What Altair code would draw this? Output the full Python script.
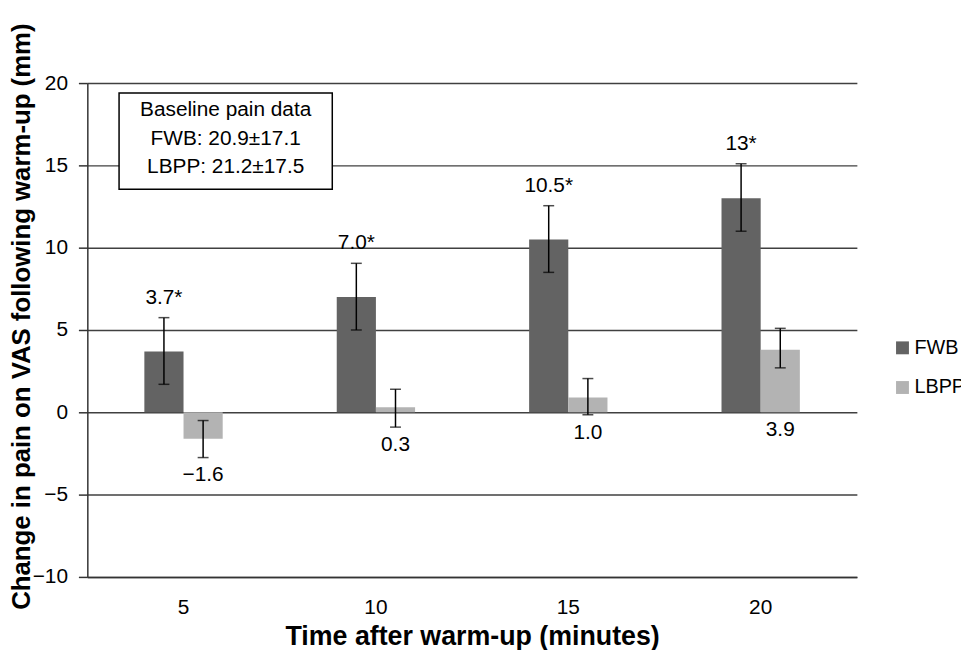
import altair as alt
import pandas as pd

times = ["5", "10", "15", "20"]
groups = ["FWB", "LBPP"]
fwb_mean = [3.7, 7.0, 10.5, 13.0]
fwb_lo = [1.7, 5.0, 8.5, 11.0]
fwb_hi = [5.75, 9.05, 12.55, 15.1]
lbpp_mean = [-1.6, 0.3, 0.9, 3.8]
lbpp_lo = [-2.75, -0.9, -0.15, 2.7]
lbpp_hi = [-0.5, 1.4, 2.05, 5.1]
fwb_labels = ["3.7*", "7.0*", "10.5*", "13*"]
lbpp_labels = ["\u22121.6", "0.3", "1.0", "3.9"]
box_lines = ["Baseline pain data", "FWB: 20.9\u00b117.1", "LBPP: 21.2\u00b117.5"]
y_ticks = [-10, -5, 0, 5, 10, 15, 20]

rows = []
for i, t in enumerate(times):
    rows.append({"time": t, "group": "FWB", "mean": fwb_mean[i], "lo": fwb_lo[i],
                 "hi": fwb_hi[i], "label": fwb_labels[i]})
    rows.append({"time": t, "group": "LBPP", "mean": lbpp_mean[i], "lo": lbpp_lo[i],
                 "hi": lbpp_hi[i], "label": lbpp_labels[i]})
df = pd.DataFrame(rows)

FONT = "Liberation Sans"
W, H = 776, 498

x_enc = alt.X("time:N", sort=times,
              scale=alt.Scale(paddingInner=0, paddingOuter=0),
              axis=alt.Axis(title="Time after warm-up (minutes)", labelAngle=0,
                            ticks=False, grid=False, domainColor="#333333",
                            domainWidth=1.5, labelPadding=20,
                            titleY=68, titleBaseline="alphabetic", titleFontSize=27))
xo_enc = alt.XOffset("group:N", sort=groups,
                     scale=alt.Scale(range=[57.5, 136.5], paddingInner=0, paddingOuter=0))
y_scale = alt.Scale(domain=[-10, 20], nice=False, zero=False)

base = alt.Chart(df)

bars = base.mark_bar().encode(
    x=x_enc,
    xOffset=xo_enc,
    y=alt.Y("mean:Q", scale=y_scale,
            axis=alt.Axis(values=y_ticks, title="Change in pain on VAS following warm-up (mm)",
                          grid=True, gridColor="#404040", gridWidth=1.5,
                          domainColor="#333333", domainWidth=1.5,
                          tickColor="#333333", tickWidth=1.5, tickSize=9,
                          labelPadding=11, titleX=-66, titleY=235,
                          titleBaseline="middle", titleFontSize=26)),
    y2=alt.datum(0),
    color=alt.Color("group:N", sort=groups,
                    scale=alt.Scale(domain=groups, range=["#636363", "#b3b3b3"]),
                    legend=alt.Legend(title=None, orient="none", legendX=812, legendY=257,
                                      symbolType="square", symbolSize=169,
                                      symbolStrokeWidth=0, labelFontSize=20,
                                      labelFont=FONT, labelColor="black",
                                      rowPadding=20, labelOffset=2)),
)

err = base.mark_rule(color="black", strokeWidth=1.5).encode(
    x=alt.X("time:N", sort=times), xOffset=alt.XOffset("group:N", sort=groups),
    y=alt.Y("lo:Q", scale=y_scale), y2="hi:Q")
cap_lo = base.mark_tick(color="black", thickness=1.5, size=11, orient="horizontal").encode(
    x=alt.X("time:N", sort=times), xOffset=alt.XOffset("group:N", sort=groups),
    y=alt.Y("lo:Q", scale=y_scale))
cap_hi = base.mark_tick(color="black", thickness=1.5, size=11, orient="horizontal").encode(
    x=alt.X("time:N", sort=times), xOffset=alt.XOffset("group:N", sort=groups),
    y=alt.Y("hi:Q", scale=y_scale))

txt_fwb = base.transform_filter(alt.datum.group == "FWB").mark_text(
    font=FONT, fontSize=21, color="black", baseline="middle", dy=-20).encode(
    x=alt.X("time:N", sort=times), xOffset=alt.XOffset("group:N", sort=groups),
    y=alt.Y("hi:Q", scale=y_scale), text="label:N")

txt_lbpp = base.transform_filter(alt.datum.group == "LBPP").transform_calculate(
    ly="min(datum.lo, 0)").mark_text(
    font=FONT, fontSize=21, color="black", baseline="middle", dy=18).encode(
    x=alt.X("time:N", sort=times), xOffset=alt.XOffset("group:N", sort=groups),
    y=alt.Y("ly:Q", scale=y_scale), text="label:N")

one = alt.Chart(pd.DataFrame({"k": [0]}))
box = one.mark_rect(fill="white", stroke="black", strokeWidth=1.5).encode(
    x=alt.value(32), x2=alt.value(247), y=alt.value(10), y2=alt.value(107))
box_text = one.mark_text(text=box_lines, font=FONT, fontSize=21, color="black",
                         lineHeight=29, baseline="middle", align="center").encode(
    x=alt.value(139.5), y=alt.value(27))

chart = alt.layer(bars, err, cap_lo, cap_hi, txt_fwb, txt_lbpp, box, box_text).properties(
    width=W, height=H,
    autosize=alt.AutoSizeParams(type="none"),
    padding={"left": 80, "top": 73, "right": 105, "bottom": 71},
    background="white",
).configure_view(stroke=None).configure_axis(
    labelFont=FONT, labelFontSize=21, labelColor="black",
    titleFont=FONT, titleFontWeight="bold", titleColor="black",
)

chart.save("out.html", embed_options={"renderer": "svg", "actions": False})
